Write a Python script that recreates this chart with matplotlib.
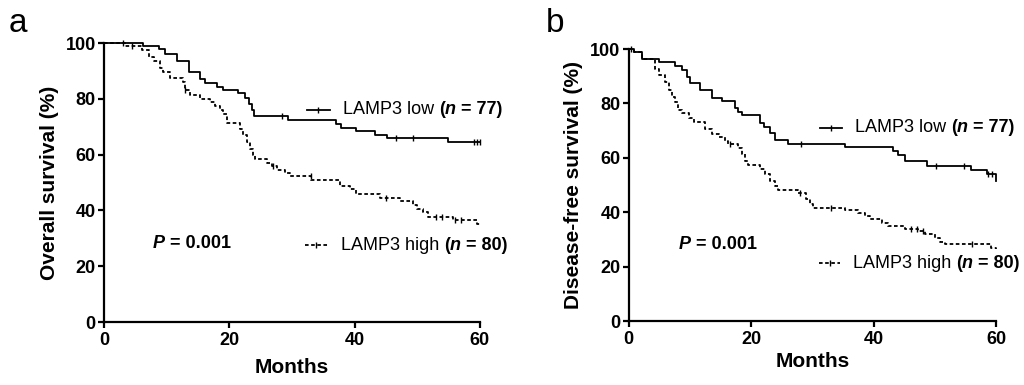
import matplotlib
matplotlib.use("Agg")
import matplotlib.pyplot as plt
import numpy as np

plt.rcParams['font.family'] = ['Liberation Sans', 'DejaVu Sans']

# panel a: overall survival
os_low_t = [0, 6.3, 8.7, 9.7, 11.6, 13.5, 15.3, 16.1, 18.0, 19.0, 21.4, 22.5, 23.2, 23.6, 24.0,
            29.3, 37.1, 37.9, 40.3, 43.2, 45.1, 54.9, 60]
os_low_s = [100, 99, 97.8, 96.2, 93.6, 89.7, 87, 85.6, 84.3, 83.2, 82, 80.3, 78, 76, 73.9,
            72.5, 71, 69.6, 68.3, 67.1, 65.8, 64.4, 64.4]
os_low_c = [28.4, 46.6, 49.3, 59.0, 59.5, 60]

os_high_t = [0, 3.4, 6.0, 7.1, 8.0, 8.9, 9.4, 10.5, 12.6, 12.9, 13.7, 15.3, 16.9, 17.7, 18.5, 19.0,
             19.6, 21.7, 22.2, 22.8, 23.3, 23.8, 24.1, 26.0, 26.8, 27.6, 28.9, 29.7, 33.1, 37.7,
             39.2, 40.3, 44.0, 47.2, 49.4, 50.0, 51.0, 51.8, 55.7, 59.5, 60]
os_high_s = [100, 98.8, 97.5, 95, 93.5, 91, 89.7, 87.5, 86, 83, 81.5, 80, 78.8, 77.5, 76, 74.6,
             71.3, 69, 67, 64.6, 62, 60, 58.4, 57, 56, 54.5, 53.3, 52.2, 51, 48.6,
             47.5, 45.8, 44.6, 43.2, 42, 40.5, 39.3, 37.8, 36.6, 35.3, 35.3]
os_high_c = [3.0, 4.5, 13.0, 27.0, 33.0, 45.0, 53.0, 54.0, 56.0, 57.0]

# panel b: disease-free survival
dfs_low_t = [0, 0.8, 2.2, 4.9, 7.6, 8.7, 9.5, 10.0, 11.7, 13.6, 15.2, 17.4, 17.9, 18.5, 21.4, 22.0,
             23.1, 23.9, 26.0, 35.3, 43.2, 44.0, 45.1, 48.6, 55.8, 58.4, 60]
dfs_low_s = [100, 99, 96.3, 95.2, 93.7, 92.4, 89.8, 87.5, 85, 82.2, 81, 78.5, 77, 75.6, 73, 71.5,
             69, 66.6, 65.2, 64, 62.5, 61, 58.7, 57.2, 55.6, 54, 51.5]
dfs_low_c = [28.1, 50.2, 54.7, 58.7, 59.3]

dfs_high_t = [0, 0.8, 2.2, 4.3, 4.9, 6.0, 6.5, 7.1, 7.6, 8.1, 8.7, 9.8, 10.6, 12.5, 13.6, 14.7,
              15.7, 16.2, 17.9, 18.5, 19.0, 19.5, 21.4, 22.3, 23.1, 23.9, 24.4, 27.7, 29.0, 29.6,
              30.1, 35.3, 37.5, 38.5, 39.4, 41.3, 42.3, 45.1, 47.2, 48.3, 50.0, 50.8, 51.6, 59.1, 60]
dfs_high_s = [100, 99, 96.3, 92.6, 90.5, 88, 85, 82.5, 80.6, 77.5, 76.4, 74.8, 73.1, 70.5, 68.8, 67.5,
              66.2, 65, 63.8, 61.5, 59, 57.3, 56, 54, 51.5, 49.5, 48.2, 47, 45, 43,
              41.5, 40.8, 39.8, 38.5, 37.5, 36, 35.1, 34, 33, 32, 30.5, 29, 28.3, 27, 26.5]
dfs_high_c = [0.3, 16.5, 28.0, 33.0, 46.0, 47.0, 48.0, 56.0]

yticks = [0, 20, 40, 60, 80, 100]
xticks = [0, 20, 40, 60]

DASH = (0, (2.0, 1.4))


def km(ax, t, s, cens, ls):
    ax.step(t, s, where='post', color='black', lw=1.3, linestyle=ls, clip_on=False)
    idx = np.searchsorted(t, cens, side='right') - 1
    ax.plot(cens, np.array(s)[idx], linestyle='none', marker='|', ms=4, mew=1.0,
            color='black', clip_on=False)


def legend_entry(ax, x0, x1, y, ls, name, n):
    ax.plot([x0, x1], [y, y], color='black', lw=1.3, linestyle=ls, transform=ax.transAxes,
            clip_on=False)
    ax.plot([(x0 + x1) / 2], [y], marker='|', ms=4, mew=1.0, color='black',
            transform=ax.transAxes, clip_on=False)
    t1 = ax.text(x1 + 0.035, y, name + ' ', transform=ax.transAxes, fontsize=13,
                 va='center', ha='left')
    t2 = ax.annotate('(', xy=(1, 0), xycoords=t1, fontsize=13, fontweight='bold',
                     va='bottom', ha='left')
    t3 = ax.annotate('n', xy=(1, 0), xycoords=t2, fontsize=13, fontweight='bold',
                     style='italic', va='bottom', ha='left')
    ax.annotate(' = %d)' % n, xy=(1, 0), xycoords=t3, fontsize=13, fontweight='bold',
                va='bottom', ha='left')


def p_value(ax, x, y):
    t1 = ax.text(x, y, 'P', transform=ax.transAxes, fontsize=13, fontweight='bold',
                 style='italic', va='center', ha='left')
    ax.annotate(' = 0.001', xy=(1, 0), xycoords=t1, fontsize=13, fontweight='bold',
                va='bottom', ha='left')


def style(ax, ylabel, xpad):
    ax.set_xlim(0, 60)
    ax.set_ylim(0, 100)
    ax.set_xticks(xticks)
    ax.set_yticks(yticks)
    for sp in ['top', 'right']:
        ax.spines[sp].set_visible(False)
    for sp in ['left', 'bottom']:
        ax.spines[sp].set_linewidth(1.6)
    ax.tick_params(direction='out', length=4, width=1.6, labelsize=13, pad=2)
    ax.tick_params(axis='x', pad=3)
    for lab in ax.get_xticklabels() + ax.get_yticklabels():
        lab.set_fontweight('bold')
    ax.set_xlabel('Months', fontsize=15, fontweight='bold', labelpad=xpad)
    ax.set_ylabel(ylabel, fontsize=15, fontweight='bold', labelpad=5)


fig = plt.figure(figsize=(10.24, 3.85), dpi=100)
ax1 = fig.add_axes([0.1016, 0.1636, 0.367, 0.7247])
ax2 = fig.add_axes([0.614, 0.166, 0.359, 0.7065])

km(ax1, os_low_t, os_low_s, os_low_c, '-')
km(ax1, os_high_t, os_high_s, os_high_c, DASH)
style(ax1, 'Overall survival (%)', 7)
legend_entry(ax1, 0.54, 0.60, 0.76, '-', 'LAMP3 low', 77)
legend_entry(ax1, 0.535, 0.595, 0.276, DASH, 'LAMP3 high', 80)
p_value(ax1, 0.13, 0.28)

km(ax2, dfs_low_t, dfs_low_s, dfs_low_c, '-')
km(ax2, dfs_high_t, dfs_high_s, dfs_high_c, DASH)
style(ax2, 'Disease-free survival (%)', 3)
legend_entry(ax2, 0.52, 0.58, 0.71, '-', 'LAMP3 low', 77)
legend_entry(ax2, 0.518, 0.575, 0.213, DASH, 'LAMP3 high', 80)
p_value(ax2, 0.136, 0.283)

fig.text(0.008, 0.94, 'a', fontsize=24, va='center', ha='left')
fig.text(0.533, 0.94, 'b', fontsize=24, va='center', ha='left')

plt.savefig('out.png', dpi=100)
